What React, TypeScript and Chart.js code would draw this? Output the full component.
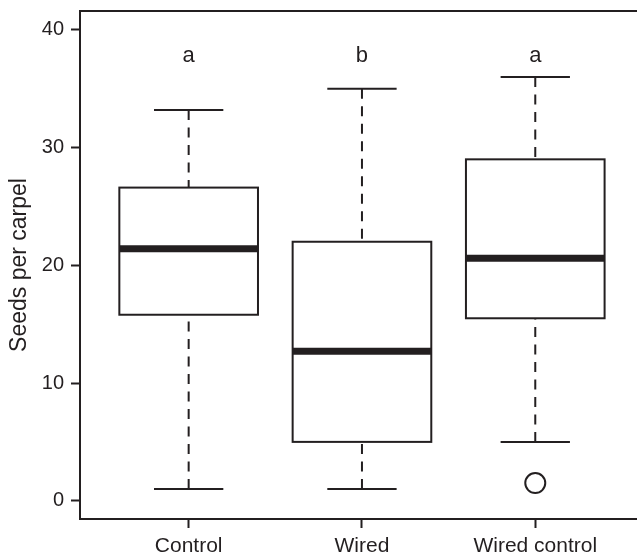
import { useEffect, useRef } from "react";
import { Chart, registerables } from "chart.js";

Chart.register(...registerables);

// ---- data ----
const categories = ["Control", "Wired", "Wired control"];
const whiskerLow = [1, 1, 5];
const q1 = [15.8, 5, 15.5];
const medians = [21.4, 12.7, 20.6];
const q3 = [26.6, 22, 29];
const whiskerHigh = [33.2, 35, 36];
const outlierGroup = [3];
const outlierValue = [1.5];
const groupLetters = ["a", "b", "a"];
const yTickValues = [0, 10, 20, 30, 40];
const yTitle = "Seeds per carpel";

const INK = "#231f20";
const FONT = "'Liberation Sans', Arial, Helvetica, sans-serif";

export default function App() {
  const ref = useRef<HTMLCanvasElement>(null);

  useEffect(() => {
    document.body.style.margin = "0";
    const canvas = ref.current!;

    const boxPlugin = {
      id: "boxplots",
      beforeDatasetsDraw(chart: any) {
        const { ctx, chartArea } = chart;
        const x = chart.scales.x;
        const y = chart.scales.y;
        ctx.save();
        ctx.strokeStyle = INK;
        categories.forEach((_, i) => {
          const c = i + 1;
          const xc = x.getPixelForValue(c);
          const xl = x.getPixelForValue(c - 0.4);
          const xr = x.getPixelForValue(c + 0.4);
          const sl = x.getPixelForValue(c - 0.2);
          const sr = x.getPixelForValue(c + 0.2);
          const yLo = y.getPixelForValue(whiskerLow[i]);
          const yHi = y.getPixelForValue(whiskerHigh[i]);
          const yQ1 = y.getPixelForValue(q1[i]);
          const yQ3 = y.getPixelForValue(q3[i]);
          const yMed = y.getPixelForValue(medians[i]);

          // dashed whiskers
          ctx.lineWidth = 2;
          ctx.lineCap = "butt";
          ctx.setLineDash([10, 7.5]);
          ctx.beginPath();
          ctx.moveTo(xc, yLo);
          ctx.lineTo(xc, yQ1);
          ctx.moveTo(xc, yHi);
          ctx.lineTo(xc, yQ3);
          ctx.stroke();
          ctx.setLineDash([]);

          // staples
          ctx.beginPath();
          ctx.moveTo(sl, yLo);
          ctx.lineTo(sr, yLo);
          ctx.moveTo(sl, yHi);
          ctx.lineTo(sr, yHi);
          ctx.stroke();

          // box
          ctx.fillStyle = "#ffffff";
          ctx.fillRect(xl, yQ3, xr - xl, yQ1 - yQ3);
          ctx.strokeRect(xl, yQ3, xr - xl, yQ1 - yQ3);

          // median
          ctx.lineWidth = 7;
          ctx.beginPath();
          ctx.moveTo(xl, yMed);
          ctx.lineTo(xr, yMed);
          ctx.stroke();

          // group letter
          ctx.fillStyle = INK;
          ctx.font = `22px ${FONT}`;
          ctx.textAlign = "center";
          ctx.textBaseline = "alphabetic";
          ctx.fillText(groupLetters[i], xc, y.getPixelForValue(37.3));
        });

        // plot frame (right side lies beyond the canvas)
        ctx.lineWidth = 2;
        ctx.strokeStyle = INK;
        ctx.strokeRect(
          chartArea.left,
          chartArea.top,
          chartArea.right - chartArea.left + 10,
          chartArea.bottom - chartArea.top
        );
        ctx.restore();
      },
    };

    const chart = new Chart(canvas, {
      type: "scatter",
      data: {
        datasets: [
          {
            label: "outliers",
            data: outlierGroup.map((g, k) => ({ x: g, y: outlierValue[k] })),
            pointRadius: 10,
            pointHoverRadius: 10,
            pointStyle: "circle",
            borderWidth: 2,
            borderColor: INK,
            backgroundColor: "rgba(255,255,255,0)",
          },
        ],
      },
      options: {
        responsive: false,
        animation: false,
        devicePixelRatio: 1,
        layout: { autoPadding: false, padding: { top: 11, left: 0, right: 0, bottom: 0 } },
        plugins: {
          legend: { display: false },
          tooltip: { enabled: false },
        },
        scales: {
          x: {
            type: "linear",
            min: 0.373,
            max: 3.587,
            afterBuildTicks: (s: any) => {
              s.ticks = categories.map((_, i) => ({ value: i + 1 }));
            },
            afterFit: (s: any) => {
              s.height = 37;
              s.paddingLeft = 0;
              s.paddingRight = 0;
            },
            ticks: {
              autoSkip: false,
              maxRotation: 0,
              padding: 6,
              color: INK,
              font: { family: FONT, size: 21 },
              callback: (v: any) => categories[Math.round(Number(v)) - 1] ?? "",
            },
            grid: {
              display: true,
              drawOnChartArea: false,
              drawTicks: true,
              tickLength: 9,
              tickWidth: 2,
              tickColor: INK,
            },
            border: { display: false },
          },
          y: {
            type: "linear",
            min: -1.55,
            max: 41.6,
            afterBuildTicks: (s: any) => {
              s.ticks = yTickValues.map((v) => ({ value: v }));
            },
            afterFit: (s: any) => {
              s.width = 80;
              s.paddingTop = 0;
              s.paddingBottom = 0;
            },
            ticks: {
              padding: 7,
              color: INK,
              font: { family: FONT, size: 20 },
            },
            grid: {
              display: true,
              drawOnChartArea: false,
              drawTicks: true,
              tickLength: 9,
              tickWidth: 2,
              tickColor: INK,
            },
            border: { display: false },
            title: {
              display: true,
              text: yTitle,
              color: INK,
              font: { family: FONT, size: 23 },
              padding: { top: 6, bottom: 0 },
            },
          },
        },
      },
      plugins: [boxPlugin],
    });

    return () => chart.destroy();
  }, []);

  return (
    <div style={{ width: 637, height: 556, background: "#ffffff" }}>
      <canvas ref={ref} width={637} height={556} style={{ display: "block" }} />
    </div>
  );
}
